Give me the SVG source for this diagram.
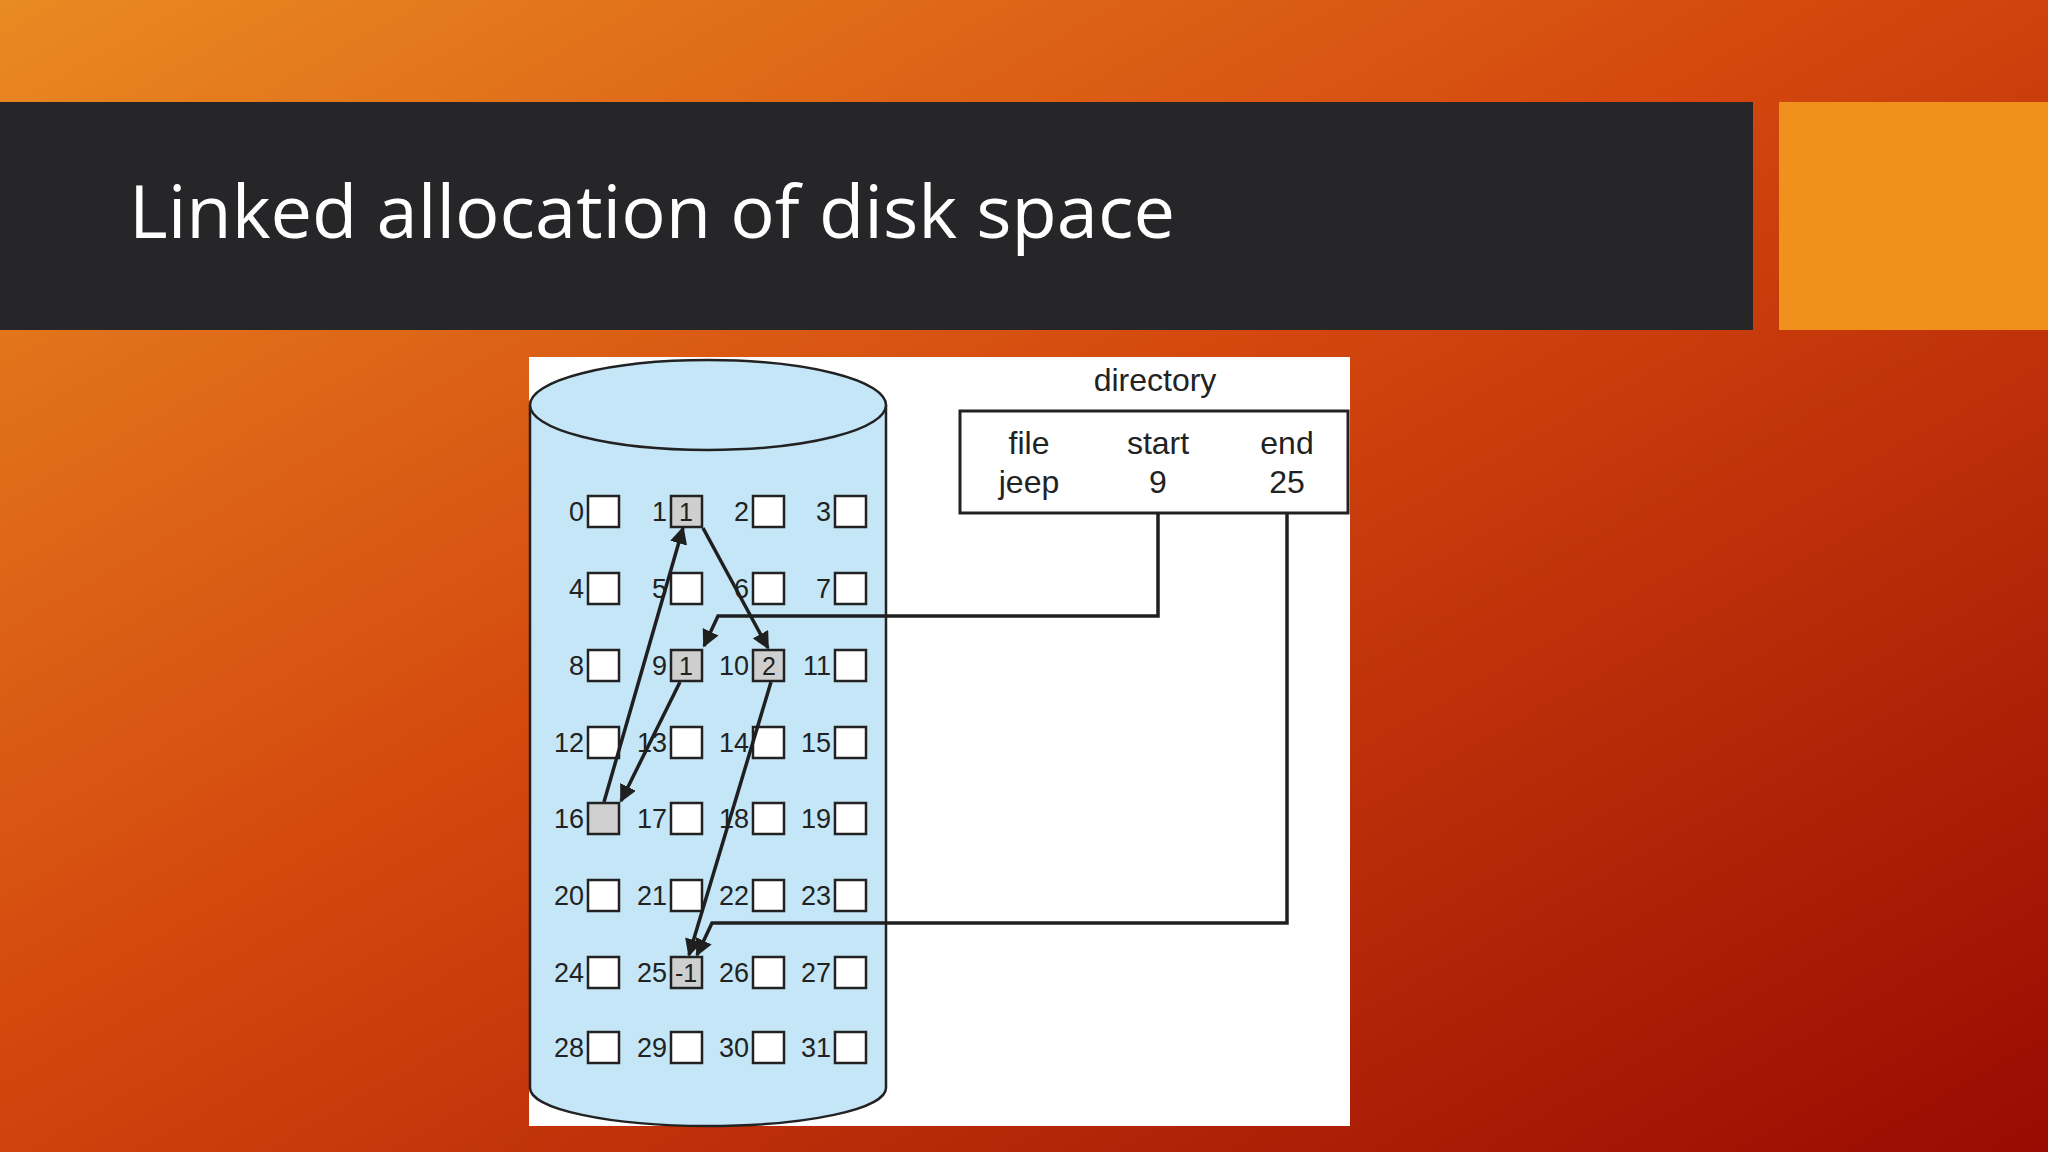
<svg xmlns="http://www.w3.org/2000/svg" width="2048" height="1152" viewBox="0 0 2048 1152">
<defs>
<linearGradient id="bg" x1="0" y1="0" x2="1" y2="1">
<stop offset="0" stop-color="#e98a22"/><stop offset="0.45" stop-color="#d4480e"/><stop offset="1" stop-color="#990a02"/>
</linearGradient>
<marker id="ah" viewBox="0 0 10 10" refX="9" refY="5" markerWidth="5" markerHeight="5" orient="auto"><path d="M0,0 L10,5 L0,10 z" fill="#1f1f1f"/></marker>
<style>
.lb{font-family:"Liberation Sans",Arial,sans-serif;font-size:27px;fill:#222;text-anchor:end}
.bx{fill:#fff;stroke:#222;stroke-width:2.5}
.gb{fill:#cfcfcf;stroke:#222;stroke-width:2.5}
.bt{font-family:"Liberation Sans",Arial,sans-serif;font-size:25px;fill:#222;text-anchor:middle}
.dt{font-family:"Liberation Sans",Arial,sans-serif;font-size:32px;fill:#222;text-anchor:middle}
.ln{fill:none;stroke:#1f1f1f;stroke-width:3.5}
</style>
</defs>
<rect width="2048" height="1152" fill="url(#bg)"/>
<rect x="0" y="102" width="1753" height="228" fill="#262629"/>
<rect x="1779" y="102" width="269" height="228" fill="#f0911e"/>
<text x="129" y="238" font-family="Open Sans,'Noto Sans',sans-serif" font-size="74" fill="#fff">Linked allocation of disk space</text>
<rect x="529" y="357" width="821" height="769" fill="#fff"/>
<g id="disk">
<path d="M530,405 L530,1088 A178,38 0 0 0 886,1088 L886,405" fill="#c5e6f6" stroke="#222" stroke-width="2.5"/>
<ellipse cx="708" cy="405" rx="178" ry="45" fill="#c5e6f6" stroke="#222" stroke-width="2.5"/>
</g>
<g id="blocks">
<g class="lb">
<text x="584" y="521">0</text><text x="667" y="521">1</text><text x="749" y="521">2</text><text x="831" y="521">3</text>
<text x="584" y="598">4</text><text x="667" y="598">5</text><text x="749" y="598">6</text><text x="831" y="598">7</text>
<text x="584" y="675">8</text><text x="667" y="675">9</text><text x="749" y="675">10</text><text x="831" y="675">11</text>
<text x="584" y="752">12</text><text x="667" y="752">13</text><text x="749" y="752">14</text><text x="831" y="752">15</text>
<text x="584" y="828">16</text><text x="667" y="828">17</text><text x="749" y="828">18</text><text x="831" y="828">19</text>
<text x="584" y="905">20</text><text x="667" y="905">21</text><text x="749" y="905">22</text><text x="831" y="905">23</text>
<text x="584" y="982">24</text><text x="667" y="982">25</text><text x="749" y="982">26</text><text x="831" y="982">27</text>
<text x="584" y="1057">28</text><text x="667" y="1057">29</text><text x="749" y="1057">30</text><text x="831" y="1057">31</text>
</g>
<rect class="bx" x="588" y="496" width="31" height="31"/><rect class="gb" x="671" y="496" width="31" height="31"/><rect class="bx" x="753" y="496" width="31" height="31"/><rect class="bx" x="835" y="496" width="31" height="31"/>
<rect class="bx" x="588" y="573" width="31" height="31"/><rect class="bx" x="671" y="573" width="31" height="31"/><rect class="bx" x="753" y="573" width="31" height="31"/><rect class="bx" x="835" y="573" width="31" height="31"/>
<rect class="bx" x="588" y="650" width="31" height="31"/><rect class="gb" x="671" y="650" width="31" height="31"/><rect class="gb" x="753" y="650" width="31" height="31"/><rect class="bx" x="835" y="650" width="31" height="31"/>
<rect class="bx" x="588" y="727" width="31" height="31"/><rect class="bx" x="671" y="727" width="31" height="31"/><rect class="bx" x="753" y="727" width="31" height="31"/><rect class="bx" x="835" y="727" width="31" height="31"/>
<rect class="gb" x="588" y="803" width="31" height="31"/><rect class="bx" x="671" y="803" width="31" height="31"/><rect class="bx" x="753" y="803" width="31" height="31"/><rect class="bx" x="835" y="803" width="31" height="31"/>
<rect class="bx" x="588" y="880" width="31" height="31"/><rect class="bx" x="671" y="880" width="31" height="31"/><rect class="bx" x="753" y="880" width="31" height="31"/><rect class="bx" x="835" y="880" width="31" height="31"/>
<rect class="bx" x="588" y="957" width="31" height="31"/><rect class="gb" x="671" y="957" width="31" height="31"/><rect class="bx" x="753" y="957" width="31" height="31"/><rect class="bx" x="835" y="957" width="31" height="31"/>
<rect class="bx" x="588" y="1032" width="31" height="31"/><rect class="bx" x="671" y="1032" width="31" height="31"/><rect class="bx" x="753" y="1032" width="31" height="31"/><rect class="bx" x="835" y="1032" width="31" height="31"/>
<text class="bt" x="686" y="521">1</text><text class="bt" x="686" y="675">1</text><text class="bt" x="769" y="675">2</text><text class="bt" x="686" y="982">-1</text>
</g>
<g id="directory">
<text class="dt" x="1155" y="391">directory</text>
<rect x="960" y="411" width="388" height="102" fill="#fff" stroke="#222" stroke-width="3"/>
<text class="dt" x="1029" y="454">file</text><text class="dt" x="1158" y="454">start</text><text class="dt" x="1287" y="454">end</text>
<text class="dt" x="1029" y="493">jeep</text><text class="dt" x="1158" y="493">9</text><text class="dt" x="1287" y="493">25</text>
</g>
<g id="connectors">
<path class="ln" d="M1158,513 L1158,616 L718,616 L704,646" marker-end="url(#ah)"/>
<path class="ln" d="M1287,513 L1287,923 L712,923 L697,955" marker-end="url(#ah)"/>
<path class="ln" d="M604,802 L683,528" marker-end="url(#ah)"/>
<path class="ln" d="M703,528 L768,648" marker-end="url(#ah)"/>
<path class="ln" d="M680,682 L621,801" marker-end="url(#ah)"/>
<path class="ln" d="M771,682 L689,955" marker-end="url(#ah)"/>
</g>
</svg>
